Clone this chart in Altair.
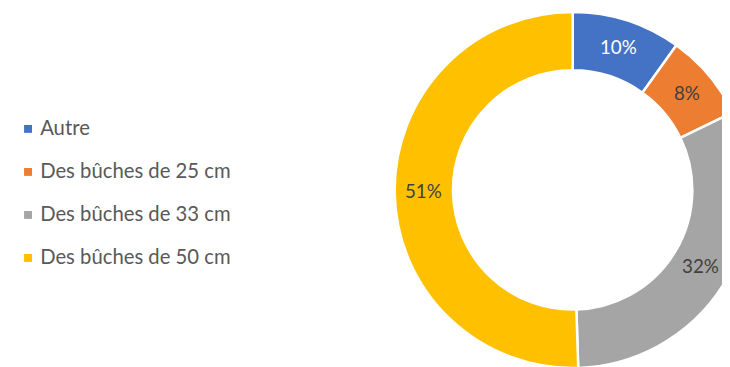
import altair as alt
import pandas as pd

categories = ["Autre", "Des bûches de 25 cm", "Des bûches de 33 cm", "Des bûches de 50 cm"]
values = [10, 8, 32, 51]
labels = ["10%", "8%", "32%", "51%"]
colors = ["#4472C4", "#ED7D31", "#A5A5A5", "#FFC000"]
label_colors = ["#FFFFFF", "#404040", "#404040", "#404040"]

df = pd.DataFrame({
    "cat": categories,
    "val": values,
    "lab": labels,
    "lc": label_colors,
    "ord": list(range(len(categories))),
})

FONT = "Lato"
CX, CY = 571, 182

base = alt.Chart(df).encode(
    theta=alt.Theta("val:Q", stack=True),
    order=alt.Order("ord:Q"),
)

arc = base.mark_arc(
    outerRadius=180, innerRadius=121, stroke="white", strokeWidth=2.5
).encode(
    x=alt.value(CX),
    y=alt.value(CY),
    color=alt.Color(
        "cat:N",
        scale=alt.Scale(domain=categories, range=colors),
        legend=alt.Legend(
            title=None,
            orient="none",
            legendX=10,
            legendY=110,
            symbolType="square",
            symbolSize=64,
            symbolStrokeWidth=0,
            labelFont=FONT,
            labelFontSize=20.5,
            labelColor="#595959",
            labelOffset=2,
            labelLimit=0,
            rowPadding=22.5,
            padding=0,
        ),
    ),
)

text = base.mark_text(radius=151, font=FONT, fontSize=19).encode(
    x=alt.value(CX),
    y=alt.value(CY),
    text="lab:N",
    color=alt.Color("lc:N", scale=None),
)

chart = (
    alt.layer(arc, text)
    .properties(width=722, height=359, padding=0, autosize="none")
    .configure_view(stroke=None)
)

chart.save("out.html", embed_options={"renderer": "svg", "actions": False})
